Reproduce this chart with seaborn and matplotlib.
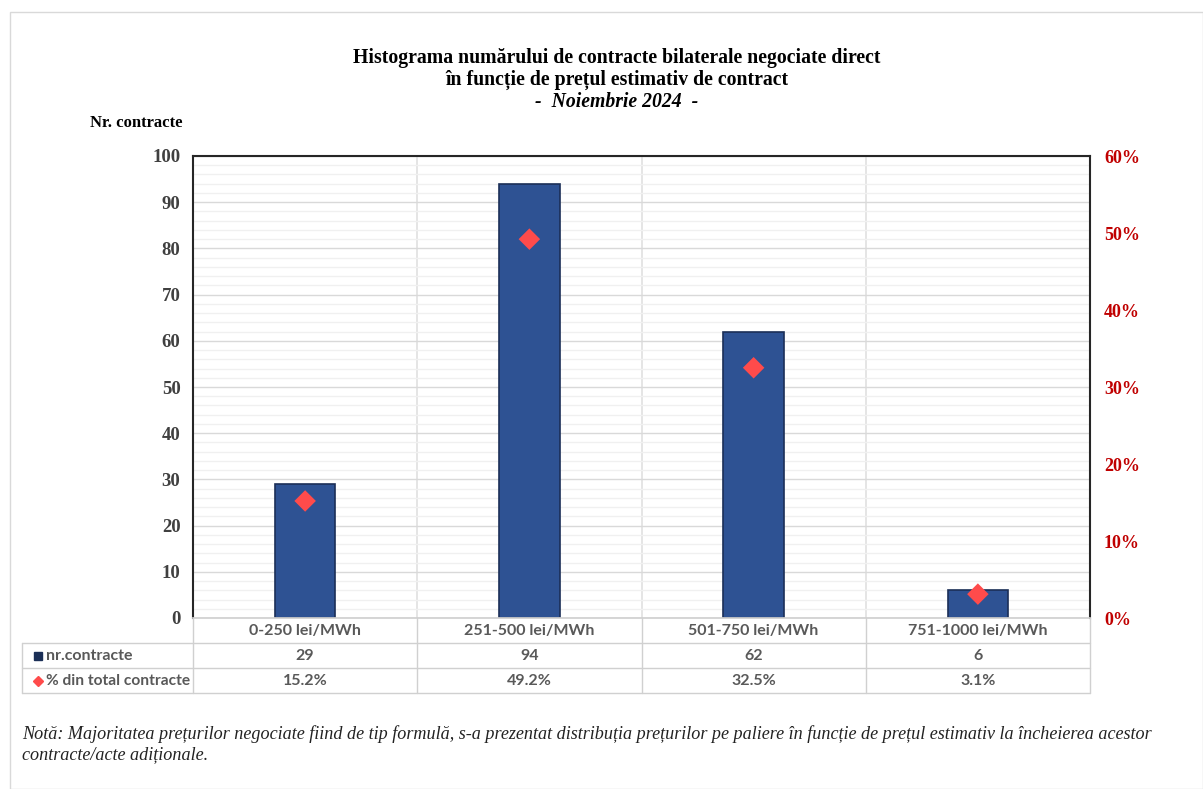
import matplotlib
matplotlib.use("Agg")
import matplotlib.pyplot as plt
import seaborn as sns
import numpy as np
import pandas as pd
from matplotlib.patches import Rectangle
from matplotlib.ticker import MultipleLocator, PercentFormatter

# data
categories = ['0-250 lei/MWh', '251-500 lei/MWh', '501-750 lei/MWh', '751-1000 lei/MWh']
nr_contracte = [29, 94, 62, 6]
pct_total = [15.2, 49.2, 32.5, 3.1]

df = pd.DataFrame({'cat': categories, 'nr': nr_contracte, 'pct': pct_total})

sns.set_theme(style='white')
plt.rcParams['font.family'] = ['Liberation Serif', 'DejaVu Serif']

fig = plt.figure(figsize=(12.03, 7.89), dpi=100)
ax1 = fig.add_axes([193/1203, 1-618/789, (1090-193)/1203, (618-156)/789])

bar_col = '#2E5293'
sns.barplot(data=df, x='cat', y='nr', ax=ax1, color=bar_col, width=0.27,
            edgecolor='#1B2F57', linewidth=1.2, saturation=1)
ax1.set_ylim(0, 100)
ax1.set_xlim(-0.5, 3.5)
ax1.yaxis.set_major_locator(MultipleLocator(10))
ax1.yaxis.set_minor_locator(MultipleLocator(2))
ax1.grid(axis='y', which='major', color='#D9D9D9', lw=1)
ax1.grid(axis='y', which='minor', color='#F0F0F0', lw=1)
for xv in [0.5, 1.5, 2.5]:
    ax1.axvline(xv, color='#E0E0E0', lw=1.2, zorder=0)
ax1.set_axisbelow(True)
ax1.set_xlabel('')
ax1.set_ylabel('')
ax1.set_xticks(range(4))
ax1.set_xticklabels([])
ax1.tick_params(axis='x', length=0)
ax1.tick_params(axis='y', which='both', length=0, labelsize=13.5, labelcolor='#404040', pad=9)
for lab in ax1.get_yticklabels():
    lab.set_fontweight('bold')
for s in ['left', 'top', 'right']:
    ax1.spines[s].set_color('#262626')
    ax1.spines[s].set_linewidth(1.5)
ax1.spines['bottom'].set_color('#D0D0D0')

ax2 = ax1.twinx()
sns.scatterplot(data=df, x='cat', y='pct', ax=ax2, marker='D', color='#FF4B4B',
                s=120, edgecolor='none', zorder=5)
ax2.set_ylim(0, 60)
ax2.yaxis.set_major_locator(MultipleLocator(10))
ax2.yaxis.set_major_formatter(PercentFormatter(decimals=0))
ax2.set_ylabel('')
ax2.tick_params(axis='y', length=0, labelsize=13, labelcolor='#C00000', pad=10)
for lab in ax2.get_yticklabels():
    lab.set_fontweight('bold')
for s in ['left', 'top', 'right', 'bottom']:
    ax2.spines[s].set_visible(False)
ax2.grid(False)

# data table below the plot
sans = ['Lato', 'DejaVu Sans']
tcol = '#595959'
line_col = '#D0D0D0'
W, H = 1203, 789
def fx(px):
    return px / W
def fy(py):
    return 1 - py / H

row_y = [618, 643, 668, 693]
col_x = [193 + i * (1090 - 193) / 4 for i in range(5)]
for y in row_y[1:]:
    fig.add_artist(plt.Line2D([fx(22), fx(1090)], [fy(y), fy(y)], color=line_col, lw=1))
for x in col_x:
    fig.add_artist(plt.Line2D([fx(x), fx(x)], [fy(618), fy(693)], color=line_col, lw=1))
fig.add_artist(plt.Line2D([fx(22), fx(22)], [fy(643), fy(693)], color=line_col, lw=1))

for i in range(4):
    cx = fx((col_x[i] + col_x[i + 1]) / 2)
    fig.text(cx, fy(631), categories[i], ha='center', va='center', fontsize=11.5,
             fontweight='bold', color=tcol, family=sans)
    fig.text(cx, fy(656), f'{nr_contracte[i]}', ha='center', va='center', fontsize=11.5,
             fontweight='bold', color=tcol, family=sans)
    fig.text(cx, fy(681), f'{pct_total[i]:.1f}%', ha='center', va='center', fontsize=11.5,
             fontweight='bold', color=tcol, family=sans)

fig.add_artist(Rectangle((fx(34), fy(660)), fx(8), 8 / H, color='#1B2F57', transform=fig.transFigure))
fig.text(fx(46), fy(656), 'nr.contracte', ha='left', va='center', fontsize=11.5,
         fontweight='bold', color=tcol, family=sans)
fig.add_artist(plt.Line2D([fx(38)], [fy(681)], marker='D', color='#FF4B4B', markersize=5.5,
                          transform=fig.transFigure))
fig.text(fx(46), fy(681), '% din total contracte', ha='left', va='center', fontsize=11.2,
         fontweight='bold', color=tcol, family=sans)

# titles
fig.text(fx(617), fy(58), 'Histograma numărului de contracte bilaterale negociate direct',
         ha='center', va='center', fontsize=14.2, fontweight='bold', color='black')
fig.text(fx(617), fy(80), 'în funcție de prețul estimativ de contract',
         ha='center', va='center', fontsize=14.2, fontweight='bold', color='black')
fig.text(fx(617), fy(102), '-  Noiembrie 2024  -', ha='center', va='center', fontsize=14.2,
         fontweight='bold', style='italic', color='black')
fig.text(fx(136), fy(123), 'Nr. contracte', ha='center', va='center', fontsize=12,
         fontweight='bold', color='black')

fig.text(fx(22), fy(734), 'Notă: Majoritatea prețurilor negociate fiind de tip formulă, s-a prezentat '
         'distribuția prețurilor pe paliere în funcție de prețul estimativ la încheierea acestor',
         ha='left', va='center', fontsize=13.1, style='italic', color='#222222')
fig.text(fx(22), fy(755), 'contracte/acte adiționale.', ha='left', va='center', fontsize=13.1,
         style='italic', color='#222222')

# outer frame
fig.add_artist(Rectangle((fx(10), 0), 1 - fx(10), fy(12), fill=False, edgecolor='#D9D9D9',
                         lw=1, transform=fig.transFigure))

fig.savefig('out.png', dpi=100)
